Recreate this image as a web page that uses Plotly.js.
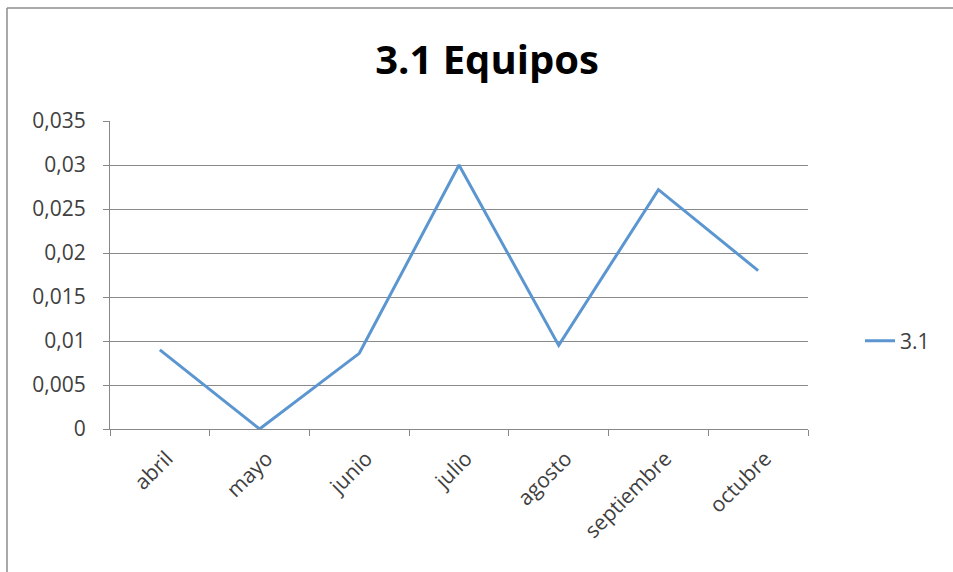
<!DOCTYPE html>
<html>
<head>
<meta charset="utf-8">
<script src="https://cdn.plot.ly/plotly-3.0.1.min.js"></script>
<style>html,body{margin:0;padding:0;background:#fff;}#chart{width:953px;height:572px;}</style>
</head>
<body>
<div id="chart"></div>
<script>
var categories = ["abril", "mayo", "junio", "julio", "agosto", "septiembre", "octubre"];
var values31 = [0.0090, 0.0000, 0.0086, 0.0300, 0.0095, 0.0272, 0.0180];
var yTickVals = [0, 0.005, 0.01, 0.015, 0.02, 0.025, 0.03, 0.035];
var yTickText = ["0", "0,005", "0,01", "0,015", "0,02", "0,025", "0,03", "0,035"];
var seriesName = "3.1";
var chartTitle = "3.1 Equipos";

var L = 110, R = 808, T = 121, B = 429, W = 953, H = 572;
function px(x){ return (x - L) / (R - L); }
function py(y){ return (B - y) / (B - T); }

var trace = {
  x: categories,
  y: values31,
  type: "scatter",
  mode: "lines",
  name: seriesName,
  line: {color: "#5B96D0", width: 3}
};

var layout = {
  width: W, height: H,
  margin: {l: L, r: W - R, t: T, b: H - B, pad: 0},
  paper_bgcolor: "#fff",
  plot_bgcolor: "#fff",
  font: {family: "Open Sans, Liberation Sans, sans-serif", color: "#404040", size: 21},
  title: {
    text: "<b>" + chartTitle + "</b>",
    font: {family: "Open Sans, sans-serif", size: 40, color: "#000"},
    x: 487 / W, xref: "container", xanchor: "center",
    y: 1 - 60 / H, yref: "container", yanchor: "middle"
  },
  showlegend: true,
  legend: {
    x: px(860), xanchor: "left", y: py(341), yanchor: "middle",
    font: {size: 21, color: "#404040"},
    bgcolor: "rgba(0,0,0,0)", borderwidth: 0
  },
  xaxis: {
    type: "category",
    range: [-0.5, categories.length - 0.5],
    tickangle: -45,
    showgrid: false,
    showline: true, linecolor: "#888", linewidth: 1,
    ticks: "outside", tickson: "boundaries", ticklen: 6, tickcolor: "#888",
    tickfont: {size: 21, color: "#404040"},
    ticklabelstandoff: 8,
    ticklabelshift: 7,
    zeroline: false,
    fixedrange: true
  },
  yaxis: {
    range: [0, 0.035],
    tickvals: yTickVals, ticktext: yTickText,
    showgrid: true, gridcolor: "#8a8a8a", gridwidth: 1,
    showline: true, linecolor: "#888", linewidth: 1,
    ticks: "outside", ticklen: 6, tickcolor: "#888",
    tickfont: {size: 21, color: "#404040"},
    zeroline: false,
    ticklabelstandoff: 13,
    fixedrange: true
  },
  shapes: [
    {type: "line", xref: "paper", yref: "paper", x0: px(7), x1: px(953), y0: py(8), y1: py(8), line: {color: "#8c8c8c", width: 1.5}},
    {type: "line", xref: "paper", yref: "paper", x0: px(7), x1: px(7), y0: py(8), y1: py(572), line: {color: "#8c8c8c", width: 1.5}}
  ]
};

Plotly.newPlot("chart", [trace], layout, {displayModeBar: false, staticPlot: true});
</script>
</body>
</html>
